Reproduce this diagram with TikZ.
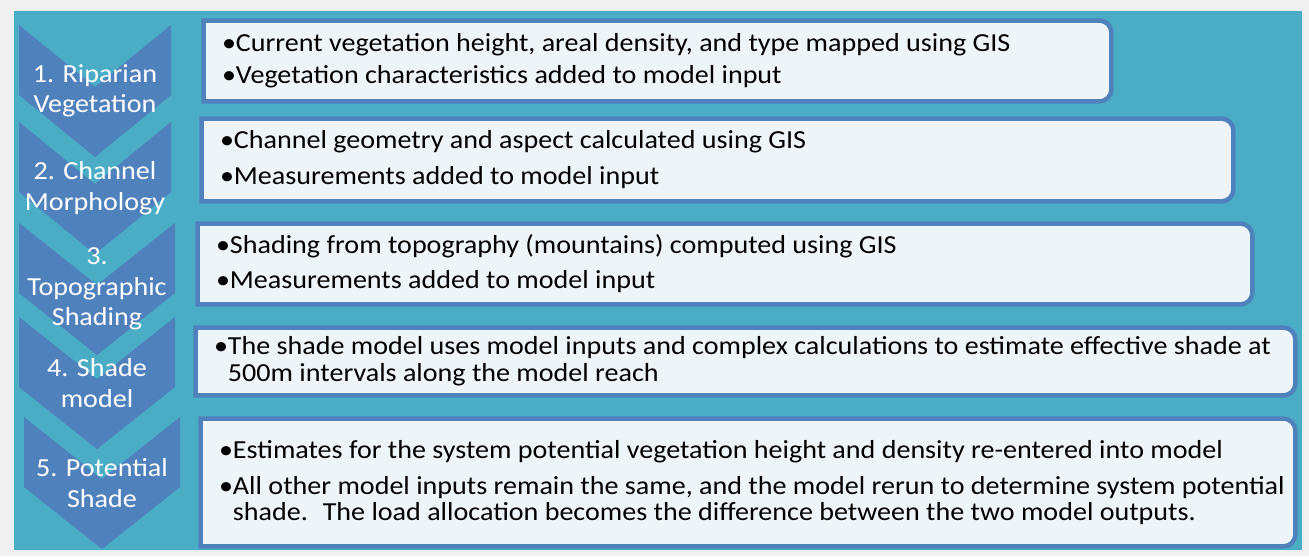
\documentclass[tikz,border=0pt]{standalone}
\usepackage{fontspec}
\setmainfont{Carlito}[FakeStretch=1.08]
\usetikzlibrary{positioning,fit}
\definecolor{shdteal} {RGB}{ 75,172,198}
\definecolor{shdblue} {RGB}{ 79,129,189}
\definecolor{shdpale} {RGB}{238,245,249}
\definecolor{shdgray} {RGB}{240,240,240}
\newcommand{\hng}{\hphantom{\textbullet}}
\tikzset{
  chev/.style={fill=shdblue,draw=none},
  chevtxt/.style={font=\fontsize{13}{15.25}\selectfont,text=white,
    align=center,inner sep=0pt},
  detbox/.style={inner sep=0pt,draw=none},
  detline/.style={draw=shdblue,fill=shdpale,line width=2.25pt},
  dettxt/.style={font=\fontsize{13}{13.35}\selectfont,text=black,
    align=left,inner sep=0pt},
}

\begin{document}
\begin{tikzpicture}[x=0.5pt,y=-0.5pt]
  \fill[shdgray] (0,0) rectangle (1309,556);
  \fill[shdteal] (14,11) rectangle (1302,550);

  % step chevrons
  \fill[chev] (19,25)  -- ++(76,62) -- ++(76,-62) -- ++(0,70) -- ++(-76,62) -- ++(-76,-62) -- cycle;
  \fill[chev] (19,122) -- ++(76,62) -- ++(76,-62) -- ++(0,70) -- ++(-76,62) -- ++(-76,-62) -- cycle;
  \fill[chev] (19,223) -- ++(78,62) -- ++(78,-62) -- ++(0,70) -- ++(-78,62) -- ++(-78,-62) -- cycle;
  \fill[chev] (19,317) -- ++(78,62) -- ++(78,-62) -- ++(0,70) -- ++(-78,62) -- ++(-78,-62) -- cycle;
  \fill[chev] (24,417) -- ++(78,62) -- ++(78,-62) -- ++(0,70) -- ++(-78,62) -- ++(-78,-62) -- cycle;

  \node[chevtxt] (s1) at (95,91)  {1. Riparian\\Vegetation};
  \node[chevtxt] (s2) at (95,188) {2. Channel\\Morphology};
  \node[chevtxt] (s3) at (97,289) {3.\\Topographic\\Shading};
  \node[chevtxt] (s4) at (97,383) {4. Shade\\model};
  \node[chevtxt] (s5) at (102,483){5. Potential\\Shade};

  % detail boxes
  \node[detbox,fit={(204,21) (1111,101)}]  (b1){};
  \node[detbox,fit={(202,119) (1233,201)}] (b2){};
  \node[detbox,fit={(198,224) (1252,304)}] (b3){};
  \node[detbox,fit={(196,328) (1295,395)}] (b4){};
  \node[detbox,fit={(201,419) (1295,546)}] (b5){};

  \draw[detline](b1.north west)--([xshift=-6pt]b1.north east) arc[start angle=90,end angle=0,radius=6pt]
    --([yshift=6pt]b1.south east) arc[start angle=0,end angle=-90,radius=6pt]--(b1.south west)--cycle;
  \draw[detline](b2.north west)--([xshift=-6pt]b2.north east) arc[start angle=90,end angle=0,radius=6pt]
    --([yshift=6pt]b2.south east) arc[start angle=0,end angle=-90,radius=6pt]--(b2.south west)--cycle;
  \draw[detline](b3.north west)--([xshift=-6pt]b3.north east) arc[start angle=90,end angle=0,radius=6pt]
    --([yshift=6pt]b3.south east) arc[start angle=0,end angle=-90,radius=6pt]--(b3.south west)--cycle;
  \draw[detline](b4.north west)--([xshift=-6pt]b4.north east) arc[start angle=90,end angle=0,radius=6pt]
    --([yshift=6pt]b4.south east) arc[start angle=0,end angle=-90,radius=6pt]--(b4.south west)--cycle;
  \draw[detline](b5.north west)--([xshift=-6pt]b5.north east) arc[start angle=90,end angle=0,radius=6pt]
    --([yshift=6pt]b5.south east) arc[start angle=0,end angle=-90,radius=6pt]--(b5.south west)--cycle;

  \node[dettxt,right=9pt of b1.west](t1)
    {\textbullet Current vegetation height, areal density, and type mapped using GIS\\[2.65pt]
     \textbullet Vegetation characteristics added to model input};
  \node[dettxt,right=9pt of b2.west](t2)
    {\textbullet Channel geometry and aspect calculated using GIS\\[4.65pt]
     \textbullet Measurements added to model input};
  \node[dettxt,right=9pt of b3.west](t3)
    {\textbullet Shading from topography (mountains) computed using GIS\\[4.15pt]
     \textbullet Measurements added to model input};
  \node[dettxt,right=9pt of b4.west](t4)
    {\textbullet The shade model uses model inputs and complex calculations to estimate effective shade at\\
     \hng 500m intervals along the model reach};
  \node[dettxt,right=9pt of b5.west](t5)
    {\textbullet Estimates for the system potential vegetation height and density re-entered into model\\[4.65pt]
     \textbullet All other model inputs remain the same, and the model rerun to determine system potential\\
     \hng shade.~ The load allocation becomes the difference between the two model outputs.};
\end{tikzpicture}
\end{document}
